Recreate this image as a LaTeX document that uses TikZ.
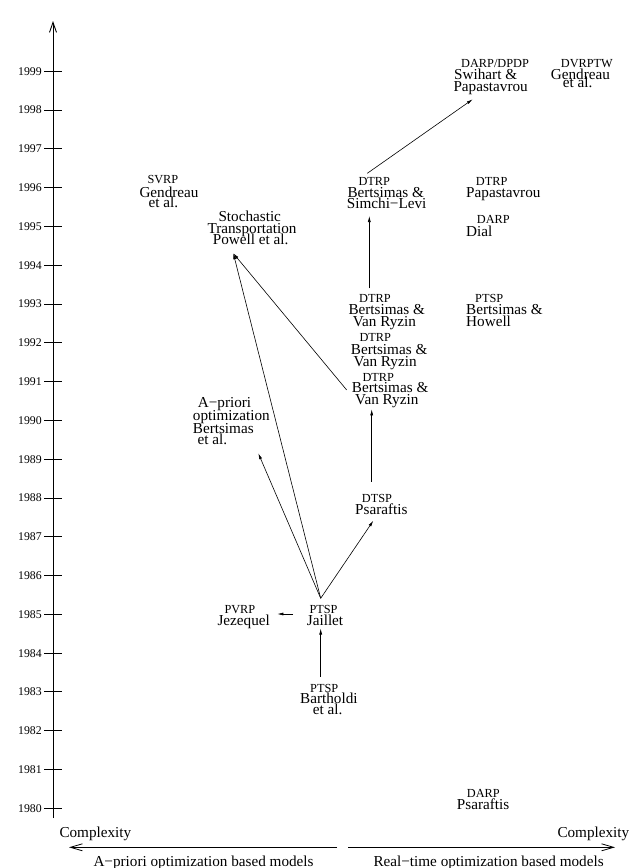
\documentclass[tikz,border=0pt]{standalone}
\usepackage{fontspec}
\setmainfont{Liberation Serif}
\usetikzlibrary{arrows.meta}
\begin{document}
\begin{tikzpicture}[x=1pt,y=-1pt,
  mainlbl/.style={anchor=base west,inner sep=0pt,font=\fontsize{15.2}{15}\selectfont},
  smalllbl/.style={anchor=base west,inner sep=0pt,font=\fontsize{12.3}{12}\selectfont},
  yearlbl/.style={anchor=east,inner sep=0pt,font=\fontsize{11.8}{12}\selectfont},
  axisline/.style={line width=0.9pt},
  link/.style={line width=0.6pt,-{Latex[length=6pt,width=3pt]}},
  bigarrow/.style={line width=0.8pt,-{Straight Barb[length=12pt,width=7pt]}}]
\useasboundingbox (0,0) rectangle (629,868);

% vertical time axis
\coordinate (axbot) at (53,818);
\coordinate (axtop) at (53,21);
\draw[axisline,-{Straight Barb[length=10pt,width=7pt]}] (axbot) -- (axtop);
\foreach \Y in {1980,...,1999}{
  \pgfmathsetmacro\yy{808.3-(\Y-1980)*38.79}
  \draw[axisline] (44,\yy) -- (62,\yy);
  \node[yearlbl] (y\Y) at (42,\yy) {\Y};
}

% SVRP Gendreau
\node[smalllbl] (svrpA) at (147.3,183.7) {SVRP};
\node[mainlbl]  (svrpB) at (139.3,197.2) {Gendreau};
\node[mainlbl]  (svrpC) at (148.3,207.6) {et al.};

% Stochastic transportation
\node[mainlbl] (stoA) at (218.3,221.2) {Stochastic};
\node[mainlbl] (stoB) at (207.3,233.8) {Transportation};
\node[mainlbl] (stoC) at (212.7,244.5) {Powell et al.};

% A-priori optimization
\node[mainlbl] (apA) at (197.7,407.8) {A−priori};
\node[mainlbl] (apB) at (192.7,420.2) {optimization};
\node[mainlbl] (apC) at (192.7,433.3) {Bertsimas};
\node[mainlbl] (apD) at (197.3,444.5) {et al.};

% DARP/DPDP Swihart
\node[smalllbl] (swA) at (461,67.7) {DARP/DPDP};
\node[mainlbl]  (swB) at (454,79.5) {Swihart \&};
\node[mainlbl]  (swC) at (453.3,91.2) {Papastavrou};

% DVRPTW Gendreau
\node[smalllbl] (dvA) at (560.7,67.7) {DVRPTW};
\node[mainlbl]  (dvB) at (550.7,79.5) {Gendreau};
\node[mainlbl]  (dvC) at (562.7,87.8) {et al.};

% DTRP Bertsimas & Simchi-Levi
\node[smalllbl] (bsA) at (358.3,185.4) {DTRP};
\node[mainlbl]  (bsB) at (347.3,197.8) {Bertsimas \&};
\node[mainlbl]  (bsC) at (346.7,208.5) {Simchi−Levi};

% DTRP Papastavrou
\node[smalllbl] (paA) at (475.7,185.4) {DTRP};
\node[mainlbl]  (paB) at (466,197.8) {Papastavrou};

% DARP Dial
\node[smalllbl] (diA) at (476.7,223.7) {DARP};
\node[mainlbl]  (diB) at (466,236.2) {Dial};

% DTRP BVR 1993
\node[smalllbl] (vcA) at (359,302) {DTRP};
\node[mainlbl]  (vcB) at (348.3,314.5) {Bertsimas \&};
\node[mainlbl]  (vcC) at (352.7,326.2) {Van Ryzin};

% PTSP Bertsimas & Howell
\node[smalllbl] (hoA) at (475,302) {PTSP};
\node[mainlbl]  (hoB) at (466,314.5) {Bertsimas \&};
\node[mainlbl]  (hoC) at (466,326.2) {Howell};

% DTRP BVR 1992
\node[smalllbl] (vbA) at (359.3,341.2) {DTRP};
\node[mainlbl]  (vbB) at (350.7,354) {Bertsimas \&};
\node[mainlbl]  (vbC) at (353.3,366) {Van Ryzin};

% DTRP BVR 1991
\node[smalllbl] (vaA) at (362.3,381) {DTRP};
\node[mainlbl]  (vaB) at (351.7,392.8) {Bertsimas \&};
\node[mainlbl]  (vaC) at (355,404.5) {Van Ryzin};

% DTSP Psaraftis
\node[smalllbl] (dtA) at (361.7,502) {DTSP};
\node[mainlbl]  (dtB) at (355,514.5) {Psaraftis};

% PVRP Jezequel
\node[smalllbl] (jeA) at (224.3,613) {PVRP};
\node[mainlbl]  (jeB) at (217.3,625.2) {Jezequel};

% PTSP Jaillet
\node[smalllbl] (jaA) at (309.3,613) {PTSP};
\node[mainlbl]  (jaB) at (306.7,625.2) {Jaillet};

% PTSP Bartholdi
\node[smalllbl] (baA) at (310,692) {PTSP};
\node[mainlbl]  (baB) at (300,703.8) {Bartholdi};
\node[mainlbl]  (baC) at (312.7,714.5) {et al.};

% DARP Psaraftis
\node[smalllbl] (psA) at (466.7,797) {DARP};
\node[mainlbl]  (psB) at (456.7,809.5) {Psaraftis};

% bottom axis
\node[mainlbl] (cxL) at (59.3,837.8) {Complexity};
\node[mainlbl] (cxR) at (557.3,837.8) {Complexity};
\node[mainlbl] (modL) at (93.3,866.2) {A−priori optimization based models};
\node[mainlbl] (modR) at (373.3,866.2) {Real−time optimization based models};
\coordinate (lstart) at (337,847.3);
\coordinate (lend) at (69,847.3);
\coordinate (rstart) at (348.3,847.3);
\coordinate (rend) at (615,847.3);
\draw[bigarrow] (lstart) -- (lend);
\draw[bigarrow] (rstart) -- (rend);

% connector end points
\coordinate (baTop) at (320.7,676.7);
\coordinate (jaBot) at (320.7,628.5);
\coordinate (jaLeft) at (293,614);
\coordinate (jeRight) at (277.3,614);
\coordinate (apex) at (320.7,598.3);
\coordinate (apEnd) at (258.3,453.3);
\coordinate (stoEnd) at (233.3,253.3);
\coordinate (dtEnd) at (373.3,520.7);
\coordinate (dtTop) at (371.7,481.7);
\coordinate (vaEnd) at (371.7,409.3);
\coordinate (vaLeft) at (346.7,390);
\coordinate (vcTop) at (369.3,288.3);
\coordinate (bsEnd) at (369.3,216);
\coordinate (bsTop) at (367.3,173.3);
\coordinate (swEnd) at (472.7,99.3);

\draw[link] (baTop) -- (jaBot);
\draw[link] (jaLeft) -- (jeRight);
\draw[link] (apex) -- (apEnd);
\draw[link] (apex) -- (stoEnd);
\draw[link] (apex) -- (dtEnd);
\draw[link] (dtTop) -- (vaEnd);
\draw[link] (vaLeft) -- (stoEnd);
\draw[link] (vcTop) -- (bsEnd);
\draw[link] (bsTop) -- (swEnd);
\end{tikzpicture}
\end{document}
